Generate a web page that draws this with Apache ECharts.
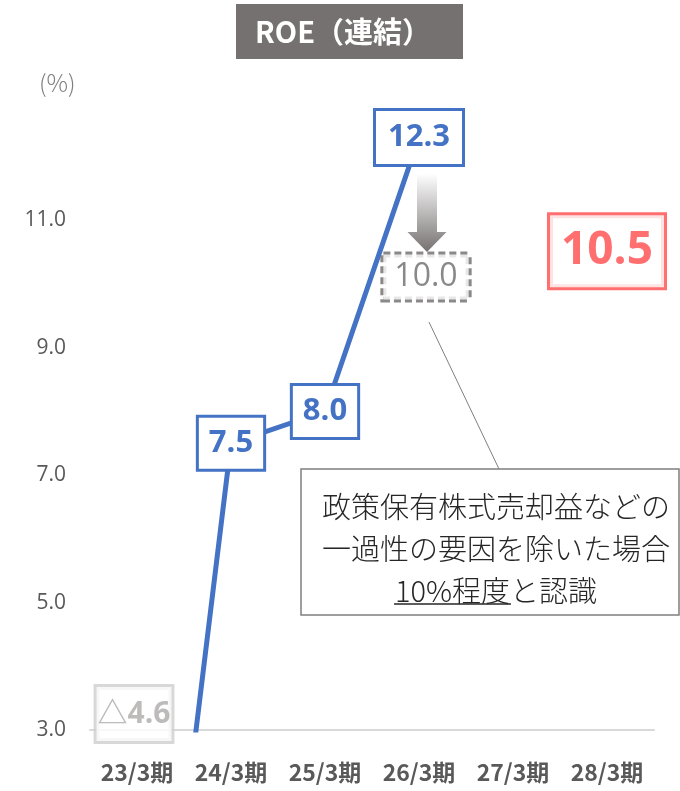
<!DOCTYPE html>
<html><head><meta charset="utf-8">
<script src="https://cdn.jsdelivr.net/npm/echarts@6/dist/echarts.min.js"></script>
<style>html,body{margin:0;padding:0;background:#fff}#c{width:680px;height:791px}</style>
</head><body><div id="c"></div>
<script>
const categories = ['23/3期', '24/3期', '25/3期', '26/3期', '27/3期', '28/3期'];
const roeActual = [-4.6, 7.5, 8.0, 12.3, null, null];
const roeAdjusted = [null, null, null, 10.0, null, null];
const roeTarget = [null, null, null, null, null, 10.5];
const yTicks = [3.0, 5.0, 7.0, 9.0, 11.0];
const titleText = 'ROE（連結）';
const unitText = '(%)';
const noteLines = ['政策保有株式売却益などの', '一過性の要因を除いた場合', '10%程度と認識'];
const noteUnderlined = '10%程度';

const yMin = yTicks[0];
const yStep = yTicks[1] - yTicks[0];
const yMax = yTicks[yTicks.length - 1] + yStep;

const BLUE = '#4472C4', RED = '#FF4B4B', GREY = '#767171';
const NUM_FONT = '"Open Sans", "Noto Sans CJK JP", sans-serif';
const JP_FONT = '"Noto Sans CJK JP", sans-serif';

const chart = echarts.init(document.getElementById('c'), null, {renderer: 'canvas'});

const blueLabel = (size, ph, pv) => ({
  show: true, position: 'inside',
  formatter: p => p.value == null ? '' : Number(p.value).toFixed(1),
  color: BLUE, fontFamily: NUM_FONT, fontWeight: 'bold', fontSize: size,
  backgroundColor: '#fff', borderColor: BLUE, borderWidth: 3,
  padding: [pv, ph, pv, ph], lineHeight: size + 8
});

chart.setOption({
  animation: false,
  grid: {left: 90, right: 26, top: 93, bottom: 61, containLabel: false},
  xAxis: {
    type: 'category', data: categories, boundaryGap: true,
    axisLine: {show: true, lineStyle: {color: '#D9D9D9', width: 2}},
    axisTick: {show: false},
    axisLabel: {interval: 0, hideOverlap: false, color: '#595959', fontFamily: JP_FONT, fontWeight: 'bold',
      fontSize: 23, margin: 31}
  },
  yAxis: {
    type: 'value', min: yMin, max: yMax, interval: yStep,
    axisLine: {show: false}, axisTick: {show: false}, splitLine: {show: false},
    axisLabel: {showMaxLabel: false, color: '#595959', fontFamily: NUM_FONT, fontSize: 21, margin: 24,
      formatter: v => v.toFixed(1)}
  },
  series: [
    {
      name: 'ROE', type: 'line', data: roeActual.map((v, i) => ({
        value: v,
        label: i === 0 ? {show: false} : (v >= 10 ? blueLabel(31, 12, 7) : blueLabel(31, 10, 6))
      })),
      symbol: 'circle', symbolSize: 1, showSymbol: true, connectNulls: false,
      lineStyle: {color: BLUE, width: 5}, itemStyle: {color: BLUE},
      z: 3
    },
    {
      name: 'ROE(prior)', type: 'scatter', symbolSize: 0,
      data: [[0, yMin]],
      label: {
        show: true, position: 'inside', offset: [-3, -16],
        formatter: () => '△' + Math.abs(roeActual[0]).toFixed(1),
        color: '#AEAAAA', fontFamily: NUM_FONT, fontWeight: 'bold', fontSize: 30,
        backgroundColor: '#fff', borderColor: '#D0CECE', borderWidth: 3,
        padding: [8, 1, 6, 1], lineHeight: 40
      },
      z: 4
    },
    {
      name: 'ROE(adjusted)', type: 'scatter', symbolSize: 0,
      data: roeAdjusted,
      label: {
        show: true, position: 'inside', offset: [7, -7],
        formatter: p => Number(p.value[1] ?? p.value).toFixed(1),
        color: '#6E6A6A', fontFamily: NUM_FONT, fontSize: 32,
        backgroundColor: '#fff', borderColor: '#6E6A6A', borderWidth: 3, borderType: [7, 4],
        padding: [5, 11, 4, 11], lineHeight: 36
      },
      z: 4
    },
    {
      name: 'ROE(target)', type: 'scatter', symbolSize: 0,
      data: roeTarget,
      label: {
        show: true, position: 'inside', offset: [0, -1],
        formatter: p => Number(p.value[1] ?? p.value).toFixed(1),
        color: RED, fontFamily: NUM_FONT, fontWeight: 'bold', fontSize: 46,
        backgroundColor: '#fff', borderColor: RED, borderWidth: 3,
        padding: [9, 11, 5, 11], lineHeight: 58
      },
      z: 4
    }
  ]
});

// annotations positioned from the axis scale
const p26 = chart.convertToPixel({gridIndex: 0}, [3, roeActual[3]]);
const pAdj = chart.convertToPixel({gridIndex: 0}, [3, roeAdjusted[3]]);
const ax = p26[0] + 8;
const arrowTop = p26[1] + 36, headTop = pAdj[1] - 52, tip = pAdj[1] - 32;

const mctx = document.createElement('canvas').getContext('2d');
mctx.font = '29px "Noto Sans CJK JP"';
const fullW = mctx.measureText(noteLines[2]).width;
const ulW = mctx.measureText(noteUnderlined).width;
const noteCx = 496, noteTop = 486, noteLH = 42;

chart.setOption({
  graphic: [
    {type: 'rect', shape: {x: 236, y: 4, width: 227, height: 55}, style: {fill: GREY}, z: 10},
    {type: 'text', x: 343, y: 31.5, style: {text: titleText, fill: '#fff', font: 'bold 29px ' + JP_FONT,
      textAlign: 'center', textVerticalAlign: 'middle'}, z: 11},
    {type: 'text', x: 39, y: 83, style: {text: unitText, fill: '#7F7F7F', font: '300 24px ' + JP_FONT,
      textAlign: 'left', textVerticalAlign: 'middle'}, z: 11},
    {type: 'polygon', shape: {points: [
        [ax - 10, arrowTop], [ax + 10, arrowTop], [ax + 10, headTop], [ax + 19.5, headTop],
        [ax, tip], [ax - 19.5, headTop], [ax - 10, headTop]]},
      style: {fill: new echarts.graphic.LinearGradient(0, 0, 0, 1, [
        {offset: 0, color: '#FFFFFF'}, {offset: 0.35, color: '#D0CECE'}, {offset: 1, color: GREY}])}, z: 10},
    {type: 'line', shape: {x1: pAdj[0] + 10, y1: pAdj[1] + 38, x2: 499, y2: 469},
      style: {stroke: '#7F7F7F', lineWidth: 1}, z: 10},
    {type: 'rect', shape: {x: 301, y: 469, width: 378, height: 146},
      style: {fill: '#fff', stroke: '#7F7F7F', lineWidth: 1.5}, z: 10},
    {type: 'text', x: noteCx, y: noteTop, style: {text: noteLines.join('\n'), fill: '#262626',
      font: '300 29px ' + JP_FONT, lineHeight: noteLH, textAlign: 'center', textVerticalAlign: 'top'}, z: 11},
    {type: 'line', shape: {x1: noteCx - fullW / 2, y1: 604, x2: noteCx - fullW / 2 + ulW, y2: 604},
      style: {stroke: '#262626', lineWidth: 1.5}, z: 11}
  ]
});
</script></body></html>
